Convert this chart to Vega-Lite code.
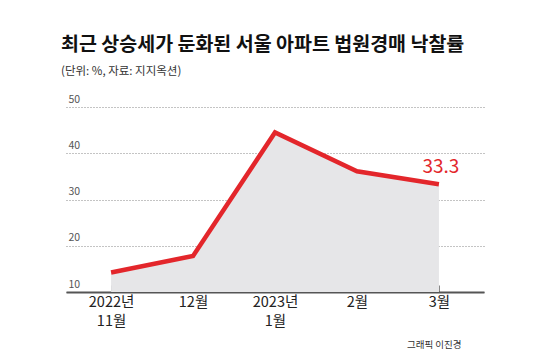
{
  "$schema": "https://vega.github.io/schema/vega-lite/v6.json",
  "width": 418,
  "height": 185,
  "autosize": "none",
  "padding": {"left": 66, "top": 107, "right": 66, "bottom": 67},
  "background": "white",
  "title": {
    "text": "최근 상승세가 둔화된 서울 아파트 법원경매 낙찰률",
    "subtitle": "(단위: %, 자료: 지지옥션)",
    "anchor": "start",
    "frame": "group",
    "dx": -5,
    "offset": 16,
    "font": "Noto Sans CJK KR",
    "fontSize": 19.5,
    "fontWeight": "bold",
    "color": "#111111",
    "subtitleFont": "Noto Sans CJK KR",
    "subtitleFontSize": 11.5,
    "subtitleColor": "#333333",
    "subtitlePadding": 10
  },
  "config": {"view": {"stroke": null}, "font": "Noto Sans CJK KR"},
  "data": {
    "values": [
      {"month": "2022년 11월", "rate": 14.2},
      {"month": "12월", "rate": 17.8},
      {"month": "2023년 1월", "rate": 44.5},
      {"month": "2월", "rate": 36.1},
      {"month": "3월", "rate": 33.3}
    ]
  },
  "encoding": {
    "x": {
      "field": "month",
      "type": "ordinal",
      "sort": null,
      "scale": {"type": "point", "padding": 0.55},
      "axis": {
        "title": "그래픽 이진경",
        "titleFont": "Noto Sans CJK KR",
        "titleFontSize": 9.5,
        "titleFontWeight": "normal",
        "titleColor": "#333333",
        "titleAnchor": "end",
        "titleAlign": "right",
        "titleX": 395,
        "titleY": 47,
        "labelAngle": 0,
        "labelExpr": "split(datum.label, ' ')",
        "labelFontSize": 14.5,
        "labelColor": "#222222",
        "labelLineHeight": 19,
        "labelPadding": 10,
        "domainColor": "#555555",
        "domainWidth": 2,
        "tickSize": -7,
        "tickColor": "#888888",
        "tickWidth": 1
      }
    },
    "y": {
      "field": "rate",
      "type": "quantitative",
      "scale": {"domain": [10, 50], "zero": false},
      "axis": {
        "title": null,
        "values": [10, 20, 30, 40, 50],
        "domain": false,
        "ticks": false,
        "labelAlign": "left",
        "labelBaseline": "bottom",
        "labelPadding": -2,
        "labelOffset": -3,
        "labelFontSize": 10.5,
        "labelColor": "#555555",
        "gridColor": "#888888",
        "gridDash": [1, 2],
        "gridWidth": 1
      }
    }
  },
  "layer": [
    {"mark": {"type": "area", "color": "#e6e6e8"}, "encoding": {"y2": {"datum": 10}}},
    {"mark": {"type": "line", "color": "#e3262b", "strokeWidth": 4.5, "strokeJoin": "miter"}},
    {
      "transform": [{"filter": "datum.month == '3월'"}],
      "mark": {"type": "text", "color": "#e3262b", "fontSize": 19, "dy": -17, "dx": 2},
      "encoding": {"text": {"field": "rate", "type": "quantitative", "format": ".1f"}}
    }
  ]
}
